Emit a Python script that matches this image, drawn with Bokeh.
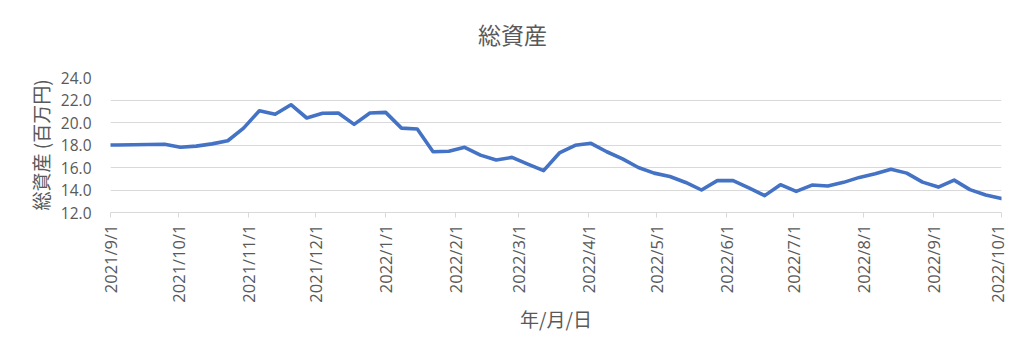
import math
from datetime import datetime
from bokeh.plotting import figure
from bokeh.models import Range1d, FixedTicker, Title
from bokeh.embed import file_html
from bokeh.resources import INLINE

dates = [
    "2021/9/1", "2021/9/4", "2021/9/11", "2021/9/18", "2021/9/25",
    "2021/10/2", "2021/10/9", "2021/10/16", "2021/10/23", "2021/10/30",
    "2021/11/6", "2021/11/13", "2021/11/20", "2021/11/27",
    "2021/12/4", "2021/12/11", "2021/12/18", "2021/12/25",
    "2022/1/1", "2022/1/8", "2022/1/15", "2022/1/22", "2022/1/29",
    "2022/2/5", "2022/2/12", "2022/2/19", "2022/2/26",
    "2022/3/5", "2022/3/12", "2022/3/19", "2022/3/26",
    "2022/4/2", "2022/4/9", "2022/4/16", "2022/4/23", "2022/4/30",
    "2022/5/7", "2022/5/14", "2022/5/21", "2022/5/28",
    "2022/6/4", "2022/6/11", "2022/6/18", "2022/6/25",
    "2022/7/2", "2022/7/9", "2022/7/16", "2022/7/23", "2022/7/30",
    "2022/8/6", "2022/8/13", "2022/8/20", "2022/8/27",
    "2022/9/3", "2022/9/10", "2022/9/17", "2022/9/24",
    "2022/10/1",
]
total_assets = [
    18.00, 18.00, 18.02, 18.05, 18.07,
    17.80, 17.90, 18.10, 18.38, 19.50,
    21.05, 20.73, 21.58, 20.40,
    20.82, 20.84, 19.83, 20.84,
    20.90, 19.50, 19.42, 17.40, 17.45,
    17.79, 17.10, 16.67, 16.90,
    16.30, 15.72, 17.29, 17.97,
    18.15, 17.40, 16.76, 16.00, 15.50,
    15.20, 14.67, 14.00, 14.83,
    14.83, 14.18, 13.50, 14.47,
    13.88, 14.44, 14.35, 14.68, 15.12,
    15.44, 15.85, 15.50, 14.70,
    14.26, 14.88, 14.03, 13.56,
    13.24,
]
tick_labels = [
    "2021/9/1", "2021/10/1", "2021/11/1", "2021/12/1", "2022/1/1",
    "2022/2/1", "2022/3/1", "2022/4/1", "2022/5/1", "2022/6/1",
    "2022/7/1", "2022/8/1", "2022/9/1", "2022/10/1",
]
y_ticks = [12, 14, 16, 18, 20, 22, 24]

title_text = "総資産"
y_label = "総資産 (百万円)"
x_label = "年/月/日"


def parse(s):
    return datetime.strptime(s, "%Y/%m/%d")


def to_ms(d):
    return (d - datetime(1970, 1, 1)).total_seconds() * 1000.0


xs = [parse(s) for s in dates]
tick_ms = [to_ms(parse(s)) for s in tick_labels]

FONT = "Noto Sans CJK JP"
NUM_FONT = "Open Sans"
GRAY = "#595959"
LIGHT = "#d9d9d9"

W, H = 1008, 344
LEFT, RIGHT, TOP, BOTTOM = 110, 7, 77, 132
TITLE_PX = 23

p = figure(
    width=W, height=H,
    x_axis_type="datetime",
    x_range=Range1d(parse(tick_labels[0]), parse(tick_labels[-1])),
    y_range=Range1d(12, 24),
    output_backend="svg", toolbar_location=None,
    min_border_left=LEFT, min_border_right=RIGHT,
    min_border_top=TOP, min_border_bottom=BOTTOM,
)
p.outline_line_color = None
p.background_fill_color = "white"
p.border_fill_color = "white"

p.line(xs, total_assets, line_color="#4472C4", line_width=3.6,
       line_join="round", line_cap="round")

title_w = TITLE_PX * len(title_text)
t = Title(text=title_text, align="left",
          text_font=FONT, text_font_size=f"{TITLE_PX}px", text_font_style="normal",
          text_color=GRAY, standoff=26,
          padding=dict(left=0, right=0, top=0, bottom=14),
          offset=512 - LEFT - title_w / 2)
p.add_layout(t, "above")

# x axis
xa = p.xaxis[0]
xa.ticker = FixedTicker(ticks=tick_ms)
xa.major_label_overrides = {tm: lab for tm, lab in zip(tick_ms, tick_labels)}
xa.major_label_orientation = math.pi / 2
xa.major_label_text_font = NUM_FONT
xa.major_label_text_font_size = "16.5px"
xa.major_label_text_color = GRAY
xa.major_label_standoff = 7
xa.axis_line_color = LIGHT
xa.major_tick_line_color = LIGHT
xa.major_tick_out = 5
xa.major_tick_in = 0
xa.minor_tick_line_color = None
xa.axis_label = x_label
xa.axis_label_text_font = FONT
xa.axis_label_text_font_size = "19px"
xa.axis_label_text_font_style = "normal"
xa.axis_label_text_color = GRAY
xa.axis_label_standoff = -1

# y axis
ya = p.yaxis[0]
ya.ticker = FixedTicker(ticks=y_ticks)
ya.major_label_overrides = {v: f"{v:.1f}" for v in y_ticks}
ya.major_label_text_font = NUM_FONT
ya.major_label_text_font_size = "15.5px"
ya.major_label_text_color = GRAY
ya.major_label_standoff = 13
ya.axis_line_color = None
ya.major_tick_line_color = None
ya.minor_tick_line_color = None
ya.axis_label = y_label
ya.axis_label_text_font = FONT
ya.axis_label_text_font_size = "19px"
ya.axis_label_text_font_style = "normal"
ya.axis_label_text_color = GRAY
ya.axis_label_standoff = 4

p.xgrid.grid_line_color = None
p.ygrid.grid_line_color = LIGHT
p.ygrid.grid_line_width = 1
p.ygrid.ticker = FixedTicker(ticks=y_ticks)

open("out.html", "w").write(file_html(p, INLINE))
